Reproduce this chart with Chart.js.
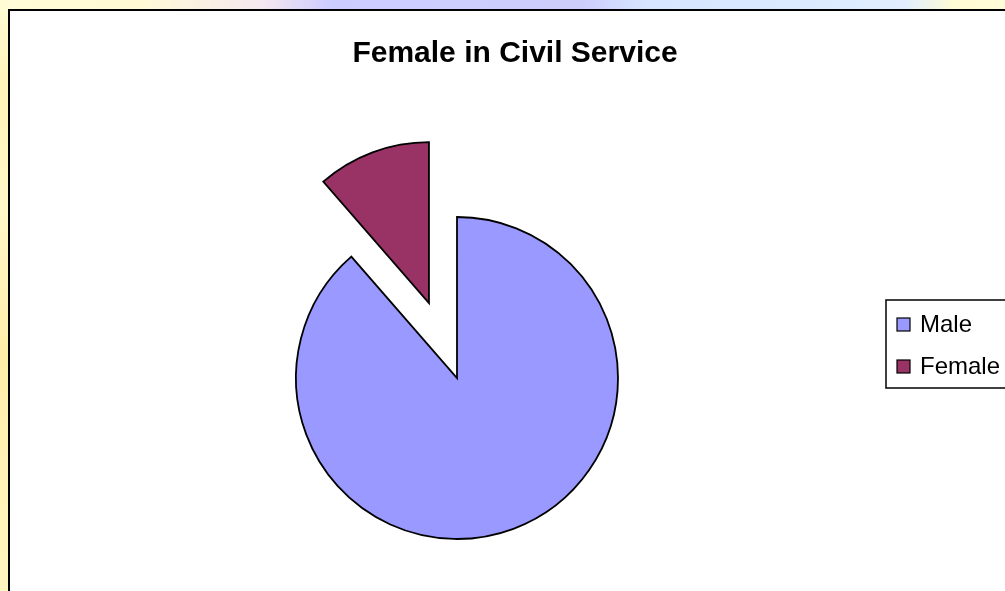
<!DOCTYPE html>
<html>
<head>
<meta charset="utf-8">
<title>Female in Civil Service</title>
<script src="https://cdn.jsdelivr.net/npm/chart.js@4/dist/chart.umd.min.js"></script>
<style>
  html, body { margin: 0; padding: 0; width: 1005px; height: 591px; overflow: hidden; }
  body {
    position: relative;
    background: linear-gradient(to right, #fffcd8 0%, #fff9d6 14%, #f6e8f0 26%, #ccccff 33%, #cdcdfc 58%, #d6e4ff 64%, #e0eeff 90%, #fffbd4 95%, #fffcd8 100%);
  }
  #strip { position: absolute; left: 0; top: 0; width: 9px; height: 591px;
    background: linear-gradient(to bottom, #fffcd6 0%, #fff3b8 15%, #fff8c8 35%, #ffeeaa 60%, #fff6c0 100%); }
  #frame { position: absolute; left: 8px; top: 9px; width: 1100px; height: 700px;
    background: #fff; border: 2.5px solid #000; }
  #chart { position: absolute; left: 0; top: 0; }
</style>
</head>
<body>
<div id="strip"></div>
<div id="frame"></div>
<canvas id="chart" width="1005" height="591"></canvas>
<script>
// chart data
const chartTitle = 'Female in Civil Service';
const categories = ['Male', 'Female'];
const shares = [88.6, 11.4];

// look
const sliceColors = ['#9999FF', '#993366'];
const explodeBy = [0, 80];
const FONT = 'Arial, "Liberation Sans", sans-serif';

// draws the slices ourselves so one of them can be pulled out of the pie
const explodePlugin = {
  id: 'explode',
  beforeDatasetDraw(chart, args) {
    const ctx = chart.ctx;
    args.meta.data.forEach((arc, i) => {
      const shift = explodeBy[i] || 0;
      const mid = (arc.startAngle + arc.endAngle) / 2;
      ctx.save();
      ctx.translate(Math.cos(mid) * shift, Math.sin(mid) * shift);
      arc.draw(ctx, chart.chartArea);
      ctx.restore();
    });
    return false;
  }
};

// title + boxed legend in the old Excel style
const decorPlugin = {
  id: 'decor',
  afterDraw(chart) {
    const ctx = chart.ctx;
    ctx.save();
    ctx.fillStyle = '#000';
    ctx.textAlign = 'center';
    ctx.textBaseline = 'alphabetic';
    ctx.font = 'bold 30px ' + FONT;
    ctx.fillText(chartTitle, 515, 62);

    // legend box
    const bx = 886, by = 300;
    ctx.lineWidth = 1.5;
    ctx.strokeStyle = '#000';
    ctx.fillStyle = '#fff';
    ctx.fillRect(bx, by, 160, 88);
    ctx.strokeRect(bx, by, 160, 88);

    ctx.font = '24px ' + FONT;
    ctx.textAlign = 'left';
    ctx.textBaseline = 'middle';
    const colors = chart.data.datasets[0].backgroundColor;
    chart.data.labels.forEach((label, i) => {
      const cy = 324 + i * 42;
      ctx.fillStyle = colors[i];
      ctx.fillRect(897, cy - 6, 13, 13);
      ctx.lineWidth = 1.2;
      ctx.strokeRect(897, cy - 6, 13, 13);
      ctx.fillStyle = '#000';
      ctx.fillText(label, 920, cy + 1);
    });
    ctx.restore();
  }
};

new Chart(document.getElementById('chart'), {
  type: 'pie',
  data: {
    labels: categories,
    datasets: [{
      data: shares,
      backgroundColor: sliceColors,
      borderColor: '#000',
      borderWidth: 1.8,
      borderJoinStyle: 'miter'
    }]
  },
  options: {
    responsive: false,
    animation: false,
    devicePixelRatio: 1,
    radius: 161,
    layout: { padding: { left: 100, right: 191, top: 200, bottom: 35 } },
    plugins: {
      legend: { display: false },
      title: { display: false },
      tooltip: { enabled: false }
    }
  },
  plugins: [explodePlugin, decorPlugin]
});
</script>
</body>
</html>
